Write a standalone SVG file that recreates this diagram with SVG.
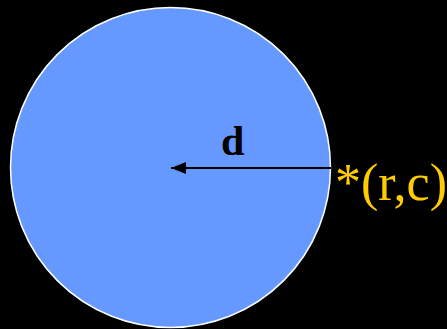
<svg xmlns="http://www.w3.org/2000/svg" width="447" height="329" viewBox="0 0 447 329">
<style>
.lbl{font-family:"Liberation Serif","Times New Roman",serif;}
</style>
<defs>
<marker id="ah" markerWidth="16" markerHeight="12" refX="15" refY="6" orient="auto" markerUnits="userSpaceOnUse">
<path d="M0,0 L15,6 L0,12 Z" fill="#000"/>
</marker>
</defs>
<rect width="447" height="329" fill="#000"/>
<g id="circle">
<circle cx="170.5" cy="167.5" r="160" fill="#6699FF" stroke="#fff" stroke-width="1.5"/>
</g>
<g id="connectors">
<line x1="331" y1="168" x2="171" y2="168" stroke="#000" stroke-width="2" marker-end="url(#ah)"/>
</g>
<g id="labels">
<text class="lbl" x="221" y="155" font-size="42" font-weight="bold" fill="#000">d</text>
<text class="lbl" x="335" y="200" font-size="52" fill="#FFCC00">*(r,c)</text>
</g>
</svg>
